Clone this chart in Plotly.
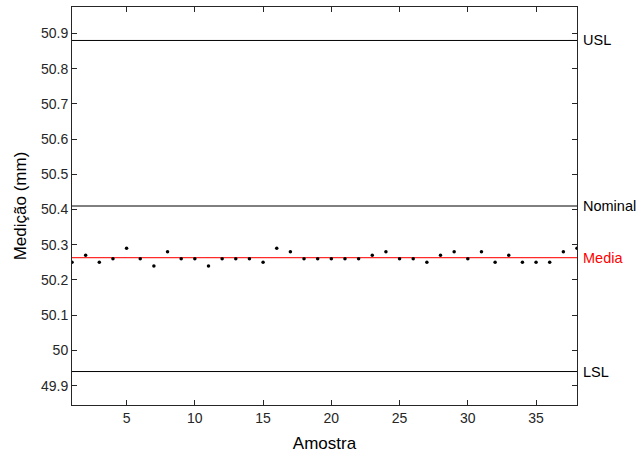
import plotly.graph_objects as go

amostra = list(range(1, 39))
medicao = [50.25, 50.27, 50.25, 50.26, 50.29, 50.26, 50.24, 50.28, 50.26, 50.26,
           50.24, 50.26, 50.26, 50.26, 50.25, 50.29, 50.28, 50.26, 50.26, 50.26,
           50.26, 50.26, 50.27, 50.28, 50.26, 50.26, 50.25, 50.27, 50.28, 50.26,
           50.28, 50.25, 50.27, 50.25, 50.25, 50.25, 50.28, 50.29]
USL = 50.88
NOMINAL = 50.41
LSL = 49.94
media = sum(medicao) / len(medicao)

ytick_vals = [49.9, 50.0, 50.1, 50.2, 50.3, 50.4, 50.5, 50.6, 50.7, 50.8, 50.9]
ytick_text = ["49.9", "50", "50.1", "50.2", "50.3", "50.4", "50.5", "50.6", "50.7", "50.8", "50.9"]
xtick_vals = [5, 10, 15, 20, 25, 30, 35]

xmin, xmax = 1, 38
font = "Liberation Sans, Arial, sans-serif"

fig = go.Figure()
for val, col in [(USL, "black"), (NOMINAL, "black"), (LSL, "black")]:
    fig.add_trace(go.Scatter(x=[xmin, xmax], y=[val, val], mode="lines",
                             line=dict(color=col, width=1), hoverinfo="skip"))
fig.add_trace(go.Scatter(x=[xmin, xmax], y=[media, media], mode="lines",
                         line=dict(color="#ff2a2a", width=1.3), hoverinfo="skip"))
fig.add_trace(go.Scatter(x=amostra, y=medicao, mode="markers",
                         marker=dict(color="black", size=3.5)))

labels = [("USL", USL, "#000000"), ("Nominal", NOMINAL, "#000000"),
          ("Media", media, "#ff0000"), ("LSL", LSL, "#000000")]
for txt, val, col in labels:
    fig.add_annotation(x=1, xref="paper", y=val, yref="y", text=txt, showarrow=False,
                       xanchor="left", yanchor="middle", xshift=4,
                       font=dict(family=font, size=14.5, color=col))

axis_common = dict(showline=True, linecolor="#262626", linewidth=1, mirror="ticks",
                   ticks="inside", ticklen=5, tickcolor="#262626", showgrid=False,
                   zeroline=False, tickfont=dict(family=font, size=14, color="#262626"))

fig.update_layout(
    width=643, height=460,
    margin=dict(l=72, r=66, t=7, b=55),
    paper_bgcolor="white", plot_bgcolor="white",
    showlegend=False,
    xaxis=dict(range=[xmin, xmax], tickvals=xtick_vals,
               title=dict(text="Amostra", font=dict(family=font, size=17, color="#000000"), standoff=12),
               **axis_common),
    yaxis=dict(range=[49.845, 50.975], tickvals=ytick_vals, ticktext=ytick_text,
               title=dict(text="Medição (mm)", font=dict(family=font, size=17, color="#000000"), standoff=10),
               **axis_common),
)

fig.write_html("out.html")
